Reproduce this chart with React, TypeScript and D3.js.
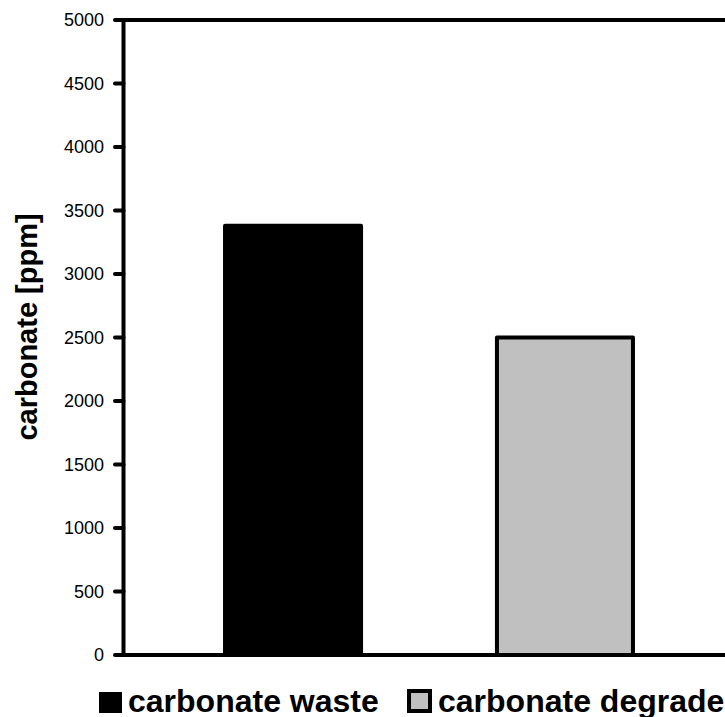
import React from "react";
import * as d3 from "d3";

const series = ["carbonate waste", "carbonate degraded"];
const values = [3380, 2500];
const fills = ["#000000", "#c0c0c0"];
const yTicks = [0, 500, 1000, 1500, 2000, 2500, 3000, 3500, 4000, 4500, 5000];
const yTitle = "carbonate [ppm]";

export default function App() {
  const W = 725, H = 717;
  const left = 123.5, top = 20, bottom = 655, right = 734.5;
  const y = d3.scaleLinear().domain([0, 5000]).range([bottom, top]);
  const x = d3.scaleBand<string>().domain(series).range([left, right]).paddingInner(0.485).paddingOuter(0.366);
  const font = "Liberation Sans, Arial, Helvetica, sans-serif";
  return (
    <svg width={W} height={H} style={{ position: "absolute", left: 0, top: 0, display: "block" }}>
      <rect x={0} y={0} width={W} height={H} fill="#fff" />
      {series.map((s, i) => (
        <rect key={s} x={x(s)! + 2} y={y(values[i])} width={x.bandwidth() - 4} height={bottom - y(values[i])}
          fill={fills[i]} stroke="#000" strokeWidth={4} strokeLinejoin="round" />
      ))}
      {/* plot frame */}
      <line x1={left} x2={W + 10} y1={top} y2={top} stroke="#000" strokeWidth={4} />
      <line x1={left} x2={W + 10} y1={bottom} y2={bottom} stroke="#000" strokeWidth={4} />
      <line x1={left} x2={left} y1={top} y2={bottom} stroke="#000" strokeWidth={4} strokeLinecap="round" />
      {yTicks.map((t) => (
        <g key={t}>
          <line x1={115} x2={left} y1={y(t)} y2={y(t)} stroke="#000" strokeWidth={4} strokeLinecap="round" />
          <text x={104} y={y(t)} dy="0.36em" textAnchor="end" fontFamily={font} fontSize={18} fill="#000">{t}</text>
        </g>
      ))}
      <text transform={`translate(37,327) rotate(-90)`} textAnchor="middle" fontFamily={font}
        fontWeight="bold" fontSize={29} fill="#000">{yTitle}</text>
      {/* legend */}
      <rect x={99} y={692} width={23} height={21} fill={fills[0]} />
      <text x={128} y={712} fontFamily={font} fontWeight="bold" fontSize={32} fill="#000">{series[0]}</text>
      <rect x={409} y={691} width={21} height={20} fill={fills[1]} stroke="#000" strokeWidth={4} />
      <text x={438} y={712} fontFamily={font} fontWeight="bold" fontSize={32} fill="#000">{series[1]}</text>
    </svg>
  );
}
